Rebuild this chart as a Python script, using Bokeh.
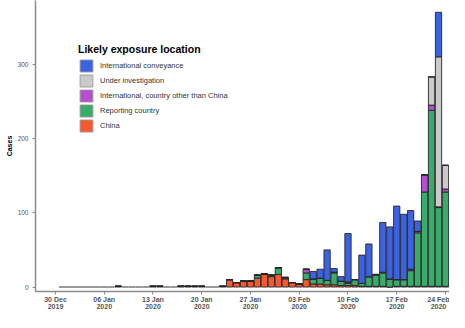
import pandas as pd
from bokeh.plotting import figure
from bokeh.models import Range1d, FixedTicker, DatetimeTickFormatter, Legend, LegendItem, ColumnDataSource
from bokeh.embed import file_html
from bokeh.resources import INLINE

# ---- data (cases by date of report, 31 Dec 2019 .. 24 Feb 2020) ----
dates = pd.date_range("2019-12-31", "2020-02-24", freq="D")

china = [0, 0, 0, 0, 0, 0, 0, 0, 1, 0, 0, 0, 0, 1, 1, 0, 0, 1, 1, 1,
         1, 0, 0, 1, 10, 6, 8, 8, 12, 17, 14, 17, 11, 6, 4, 10, 4, 4, 3, 3,
         2, 2, 2, 1, 1, 1, 1, 0, 1, 1, 1, 1, 1, 1, 1, 1]
reporting = [0, 0, 0, 0, 0, 0, 0, 0, 0, 0, 0, 0, 0, 0, 0, 0, 0, 0, 0, 0,
             0, 0, 0, 0, 0, 0, 0, 0, 4, 1, 2, 9, 1, 0, 0, 9, 7, 8, 6, 16,
             6, 3, 8, 4, 13, 15, 18, 11, 9, 9, 21, 72, 127, 237, 106, 127]
intl_other = [0, 0, 0, 0, 0, 0, 0, 0, 0, 0, 0, 0, 0, 0, 0, 0, 0, 0, 0, 0,
              0, 0, 0, 0, 0, 0, 0, 0, 0, 0, 0, 0, 1, 0, 0, 5, 0, 0, 0, 1,
              0, 2, 0, 0, 0, 0, 1, 0, 0, 0, 2, 2, 23, 7, 1, 4]
under_inv = [0, 0, 0, 0, 0, 0, 0, 0, 0, 0, 0, 0, 0, 0, 0, 0, 0, 0, 0, 0,
             0, 0, 0, 0, 0, 0, 0, 0, 0, 0, 0, 0, 0, 0, 0, 0, 0, 0, 0, 0,
             0, 0, 0, 0, 0, 1, 0, 0, 0, 0, 0, 0, 0, 38, 202, 32]
conveyance = [0, 0, 0, 0, 0, 0, 0, 0, 0, 0, 0, 0, 0, 0, 0, 0, 0, 0, 0, 0,
              0, 0, 0, 0, 0, 0, 0, 0, 0, 0, 0, 0, 0, 0, 0, 0, 10, 12, 41, 5,
              6, 65, 0, 38, 44, 0, 67, 70, 99, 88, 79, 14, 0, 0, 60, 0]

series_keys = ["china", "reporting", "intl_other", "under_inv", "conveyance"]
series_labels = ["China", "Reporting country", "International, country other than China",
                 "Under investigation", "International conveyance"]
series_colors = ["#f7582f", "#38ad69", "#b44fd3", "#cbc9c9", "#3c62e4"]

tick_dates = ["2019-12-30", "2020-01-06", "2020-01-13", "2020-01-20",
              "2020-01-27", "2020-02-03", "2020-02-10", "2020-02-17", "2020-02-24"]
y_ticks = [0, 100, 200, 300]

# ---- figure ----
DAY = 86400000
origin = pd.Timestamp("2019-12-30").value // 10**6
x_start = origin - 2.872 * DAY
x_end = origin + 56.577 * DAY
y_start, y_end = -6.0, 385.9

totals = [a + b + c + d + e for a, b, c, d, e in zip(china, reporting, intl_other, under_inv, conveyance)]
outline = ["#9a9a9a" if t == 0 else "#262626" for t in totals]

source = ColumnDataSource(dict(date=dates, china=china, reporting=reporting,
                               intl_other=intl_other, under_inv=under_inv,
                               conveyance=conveyance, outline=outline))

p = figure(width=449, height=312, x_axis_type="datetime",
           x_range=Range1d(x_start, x_end), y_range=Range1d(y_start, y_end),
           output_backend="svg", toolbar_location=None,
           min_border_left=35, min_border_top=0, min_border_right=0, min_border_bottom=0)

renderers = p.vbar_stack(series_keys, x="date", width=0.9 * DAY, source=source,
                         fill_color=series_colors, line_color="outline", line_width=0.9)

p.xgrid.visible = False
p.ygrid.visible = False
p.outline_line_color = None
p.background_fill_color = "white"

for ax in (p.xaxis[0], p.yaxis[0]):
    ax.axis_line_color = "#8a8a8a"
    ax.axis_line_width = 1.5
    ax.major_tick_line_color = "#8a8a8a"
    ax.major_tick_out = 3
    ax.major_tick_in = 0
    ax.minor_tick_line_color = None
    ax.major_label_text_font = "Liberation Sans"
    ax.major_label_text_color = "#555555"
    ax.axis_label_text_font = "Liberation Sans"
    ax.axis_label_text_font_style = "bold"
    ax.axis_label_text_color = "black"

p.xaxis.axis_label = None
p.xaxis.ticker = FixedTicker(ticks=[pd.Timestamp(d).value // 10**6 for d in tick_dates])
fmt = "%d %b\n%Y"
p.xaxis.formatter = DatetimeTickFormatter(microseconds=fmt, milliseconds=fmt, seconds=fmt,
                                          minsec=fmt, minutes=fmt, hourmin=fmt, hours=fmt,
                                          days=fmt, months=fmt, years=fmt)
p.xaxis.major_label_text_font_size = "7px"
p.xaxis.major_label_text_font_style = "bold"
p.xaxis.major_label_text_line_height = 1.0
p.xaxis.major_label_standoff = 1

p.yaxis.ticker = FixedTicker(ticks=y_ticks)
p.yaxis.major_label_text_font_size = "6.5px"
p.yaxis.major_label_standoff = 4
p.yaxis.axis_label = "Cases"
p.yaxis.axis_label_text_font_size = "7px"
p.yaxis.axis_label_standoff = 2

items = [LegendItem(label=lab, renderers=[r]) for lab, r in zip(series_labels, renderers)]
legend = Legend(items=list(reversed(items)), location=(43, 158),
                title="Likely exposure location",
                title_text_font="Liberation Sans", title_text_font_style="bold",
                title_text_font_size="10.5px", title_text_color="black", title_standoff=3,
                label_text_font="Liberation Sans", label_text_font_size="7.5px",
                label_text_color="#333333", label_standoff=6, label_height=15,
                glyph_width=16, glyph_height=15, spacing=0, padding=0, margin=0,
                background_fill_alpha=0, border_line_alpha=0)
p.add_layout(legend)

open("out.html", "w").write(file_html(p, INLINE))
